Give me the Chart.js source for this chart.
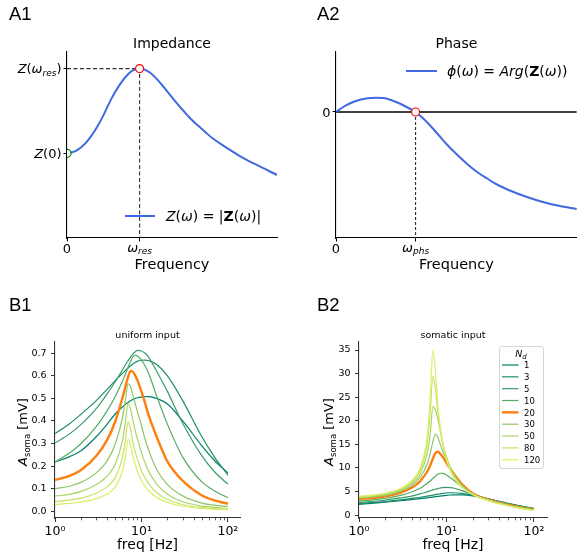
<!DOCTYPE html>
<html><head><meta charset="utf-8">
<script src="https://cdn.jsdelivr.net/npm/chart.js@4.4.1/dist/chart.umd.min.js"></script>
<style>
html,body{margin:0;padding:0;background:#fff;}
#wrap{position:relative;width:582px;height:558px;overflow:hidden;background:#fff;}
canvas{position:absolute;left:0;top:0;}
.plab{position:absolute;font-family:"Liberation Sans",Arial,sans-serif;font-size:18.5px;color:#000;line-height:1;}
</style></head><body>
<div id="wrap">
<canvas id="cA1" width="582" height="558"></canvas>
<canvas id="cA2" width="582" height="558"></canvas>
<canvas id="cB1" width="582" height="558"></canvas>
<canvas id="cB2" width="582" height="558"></canvas>
<div class="plab" style="left:9px;top:4.5px">A1</div>
<div class="plab" style="left:317px;top:4.5px">A2</div>
<div class="plab" style="left:9px;top:295.5px">B1</div>
<div class="plab" style="left:317px;top:295.5px">B2</div>
</div>
<script>
// ---------- data: panel A1 (impedance, arbitrary units, w_res = 1) ----------
const impFreq = [0, 0.1, 0.2, 0.3, 0.4, 0.5, 0.6, 0.7, 0.8, 0.9, 1.0, 1.1, 1.2, 1.3, 1.4, 1.5, 1.6, 1.7, 1.8, 1.9, 2.0, 2.2, 2.4, 2.6, 2.893];
const impZ    = [1.0, 1.02, 1.075, 1.165, 1.29, 1.445, 1.625, 1.775, 1.895, 1.975, 2.0, 1.975, 1.91, 1.815, 1.71, 1.605, 1.505, 1.41, 1.33, 1.255, 1.18, 1.065, 0.958, 0.868, 0.744];
const resFreq = 1.0, resZ = 2.0, zeroZ = 1.0;
// ---------- data: panel A2 (phase, w_phs = 1) ----------
const phsFreq = [0, 0.1, 0.2, 0.3, 0.4, 0.5, 0.6, 0.7, 0.8, 0.9, 1.0, 1.1, 1.2, 1.3, 1.4, 1.5, 1.6, 1.7, 1.8, 1.9, 2.0, 2.2, 2.4, 2.6, 2.8, 3.026];
const phsPhi  = [0, 0.055, 0.095, 0.123, 0.138, 0.143, 0.139, 0.117, 0.085, 0.045, 0, -0.068, -0.15, -0.24, -0.33, -0.41, -0.485, -0.555, -0.615, -0.665, -0.715, -0.79, -0.85, -0.9, -0.938, -0.97];
const phsZero = 1.0;
// ---------- data: panels B ----------
const ndLabels = ['1', '3', '5', '10', '20', '30', '50', '80', '120'];
const freqHz = [1, 1.5, 2, 3, 4, 5, 6, 6.5, 7, 7.5, 8, 8.5, 9, 10, 11, 12, 15, 20, 30, 50, 70, 100];
// uniform input, A_soma [mV]
const uni1   = [0.218,0.243,0.268,0.33,0.385,0.432,0.462,0.473,0.483,0.49,0.496,0.5,0.503,0.506,0.508,0.508,0.50,0.475,0.40,0.29,0.225,0.17];
const uni3   = [0.344,0.39,0.43,0.49,0.54,0.58,0.61,0.623,0.635,0.645,0.653,0.66,0.665,0.669,0.67,0.668,0.65,0.60,0.49,0.33,0.24,0.16];
const uni5   = [0.302,0.345,0.385,0.455,0.52,0.575,0.625,0.648,0.667,0.684,0.698,0.707,0.713,0.71,0.70,0.685,0.62,0.53,0.39,0.245,0.175,0.12];
const uni10  = [0.218,0.26,0.30,0.375,0.445,0.51,0.575,0.607,0.637,0.665,0.685,0.692,0.688,0.67,0.645,0.615,0.51,0.385,0.24,0.13,0.09,0.06];
const uni20  = [0.139,0.158,0.183,0.245,0.315,0.40,0.50,0.55,0.595,0.622,0.617,0.60,0.58,0.53,0.48,0.43,0.33,0.22,0.135,0.07,0.048,0.033];
const uni30  = [0.100,0.112,0.128,0.17,0.222,0.30,0.41,0.49,0.565,0.55,0.51,0.475,0.44,0.38,0.32,0.275,0.185,0.118,0.068,0.036,0.027,0.021];
const uni50  = [0.067,0.076,0.088,0.118,0.155,0.21,0.31,0.39,0.478,0.45,0.40,0.355,0.32,0.26,0.215,0.18,0.12,0.075,0.042,0.023,0.017,0.013];
const uni80  = [0.043,0.05,0.058,0.08,0.108,0.15,0.235,0.31,0.397,0.36,0.30,0.26,0.23,0.18,0.148,0.125,0.082,0.052,0.03,0.016,0.012,0.009];
const uni120 = [0.030,0.035,0.041,0.056,0.076,0.108,0.175,0.24,0.32,0.29,0.24,0.205,0.175,0.135,0.11,0.092,0.061,0.039,0.022,0.012,0.008,0.006];
// somatic input, A_soma [mV]
const som1   = [2.3,2.55,2.75,3.05,3.3,3.5,3.68,3.76,3.84,3.92,3.99,4.05,4.1,4.2,4.27,4.31,4.3,4.1,3.45,2.5,1.95,1.45];
const som3   = [2.45,2.7,2.9,3.25,3.55,3.8,4.05,4.15,4.25,4.35,4.45,4.52,4.6,4.7,4.75,4.75,4.6,4.2,3.45,2.45,1.9,1.4];
const som5   = [2.7,2.95,3.2,3.65,4.05,4.5,4.95,5.15,5.35,5.5,5.65,5.76,5.85,5.9,5.85,5.75,5.2,4.4,3.45,2.4,1.85,1.35];
const som10  = [3.0,3.3,3.6,4.2,4.9,5.7,6.7,7.25,7.8,8.3,8.7,8.88,8.85,8.5,8.0,7.45,6.0,4.6,3.4,2.3,1.75,1.3];
const som20  = [3.4,3.7,4.0,4.8,5.8,7.2,9.2,10.5,12.0,13.2,13.45,13.0,12.4,11.1,9.9,8.9,6.6,4.6,3.3,2.2,1.65,1.2];
const som30  = [3.6,3.9,4.2,5.1,6.3,8.0,10.8,13.0,15.6,17.2,16.4,15.0,13.7,11.6,10.0,8.7,6.3,4.5,3.25,2.15,1.6,1.15];
const som50  = [3.75,4.05,4.4,5.35,6.7,8.8,13.0,17.0,23.0,22.2,20.2,17.8,15.6,12.4,10.2,8.7,6.2,4.45,3.2,2.1,1.55,1.1];
const som80  = [3.9,4.2,4.55,5.55,7.0,9.5,15.0,21.5,29.4,26.5,21.5,18.0,15.3,11.8,9.7,8.3,6.0,4.4,3.1,2.05,1.5,1.05];
const som120 = [4.0,4.3,4.65,5.7,7.3,10.0,16.5,24.5,35.0,30.0,23.0,18.7,15.6,11.8,9.6,8.1,5.9,4.35,3.05,2.0,1.45,1.0];
// tick values
const uniYTicks = [0, 0.1, 0.2, 0.3, 0.4, 0.5, 0.6, 0.7];
const somYTicks = [0, 5, 10, 15, 20, 25, 30, 35];
const logMajor = [1, 10, 100];
const logMinor = [2, 3, 4, 5, 6, 7, 8, 9, 20, 30, 40, 50, 60, 70, 80, 90];
const supDigit = ['⁰', '¹', '²'];

// ---------- styles ----------
const F = 'DejaVu Sans';
const BLUE = '#4169e1';
const ndColors = ['#00806a', '#1c8e66', '#399c66', '#55aa66', '#ff7f0e', '#8ec666', '#aad566', '#c6e366', '#dcee66'];

function rich(ctx, parts, x, y, align, rot) {
  ctx.save();
  ctx.translate(x, y);
  if (rot) ctx.rotate(rot);
  ctx.textBaseline = 'alphabetic';
  ctx.textAlign = 'left';
  ctx.fillStyle = '#000';
  let w = 0;
  parts.forEach(p => { ctx.font = p[1]; w += ctx.measureText(p[0]).width; });
  let cx = align === 'center' ? -w / 2 : (align === 'right' ? -w : 0);
  parts.forEach(p => { ctx.font = p[1]; ctx.fillText(p[0], cx, p[2] || 0); cx += ctx.measureText(p[0]).width; });
  ctx.restore();
}
function pts(xs, ys) { return xs.map((x, i) => ({x: x, y: ys[i]})); }
function hline(ctx, x1, x2, y, color, w) {
  ctx.save(); ctx.strokeStyle = color; ctx.lineWidth = w; ctx.beginPath(); ctx.moveTo(x1, y); ctx.lineTo(x2, y); ctx.stroke(); ctx.restore();
}

// area = [left, right, top, bottom] of the plotting box; yW / xH = room kept for tick labels
function baseOptions(area, xs, ys, yW, xH) {
  return {
    animation: false, responsive: false, events: [], devicePixelRatio: 1,
    layout: {padding: {left: area[0] - yW, top: area[2], right: 582 - area[1], bottom: 558 - area[3] - xH}},
    plugins: {legend: {display: false}, tooltip: {enabled: false}, title: {display: false}},
    scales: {x: xs, y: ys}
  };
}
function linAxis(min, max, tickVals, horizontal) {
  return {
    type: 'linear', min: min, max: max,
    afterFit: s => { if (horizontal) s.height = 0; else s.width = 0; },
    afterBuildTicks: s => { s.ticks = tickVals.map(v => ({value: v})); },
    ticks: {display: false},
    grid: {display: true, drawOnChartArea: false, drawTicks: true, tickLength: 3.5, tickColor: '#000', tickWidth: 1},
    border: {display: true, color: '#000', width: 1.1}
  };
}

// ---------- A1 ----------
const pluginA1 = {
  id: 'textA1',
  afterDraw(chart) {
    const ctx = chart.ctx, a = chart.chartArea, xs = chart.scales.x, ys = chart.scales.y;
    const cx = (a.left + a.right) / 2;
    rich(ctx, [['Impedance', `14px ${F}`]], cx, a.top - 4, 'center');
    rich(ctx, [['Z', `italic 13px ${F}`], ['(', `13px ${F}`], ['ω', `italic 13px ${F}`], ['res', `italic 9px ${F}`, 2.5], [')', `13px ${F}`]], a.left - 5.5, ys.getPixelForValue(resZ) + 4.7, 'right');
    rich(ctx, [['Z', `italic 13px ${F}`], ['(0)', `13px ${F}`]], a.left - 5.5, ys.getPixelForValue(zeroZ) + 4.7, 'right');
    rich(ctx, [['0', `13px ${F}`]], xs.getPixelForValue(0), a.bottom + 15, 'center');
    rich(ctx, [['ω', `italic 13px ${F}`], ['res', `italic 9px ${F}`, 2.5]], xs.getPixelForValue(resFreq), a.bottom + 13.5, 'center');
    rich(ctx, [['Frequency', `14.5px ${F}`]], cx, a.bottom + 31, 'center');
    hline(ctx, a.left + 58, a.left + 88, a.bottom - 22, BLUE, 2);
    rich(ctx, [['Z', `italic 14px ${F}`], ['(', `14px ${F}`], ['ω', `italic 14px ${F}`], [') = |', `14px ${F}`], ['Z', `bold 14px ${F}`], ['(', `14px ${F}`], ['ω', `italic 14px ${F}`], [')|', `14px ${F}`]], a.left + 99, a.bottom - 17, 'left');
  }
};
new Chart(document.getElementById('cA1'), {
  type: 'scatter',
  data: {datasets: [
    {data: [{x: resFreq, y: resZ}], pointRadius: 4, pointBorderColor: '#ff0000', pointBackgroundColor: '#fff', pointBorderWidth: 1.2, showLine: false, order: -10},
    {data: [{x: 0, y: zeroZ}], pointRadius: 4, pointBorderColor: '#008000', pointBackgroundColor: '#fff', pointBorderWidth: 1.2, showLine: false, order: -9},
    {data: [{x: 0, y: resZ}, {x: resFreq, y: resZ}, {x: resFreq, y: 0}], showLine: true, borderColor: '#333', borderWidth: 1.1, borderDash: [4, 2.5], pointRadius: 0, order: 2},
    {data: pts(impFreq, impZ), showLine: true, borderColor: BLUE, borderWidth: 2, pointRadius: 0, cubicInterpolationMode: 'monotone', order: 1}
  ]},
  options: baseOptions([67, 277, 52, 238], linAxis(0, 2.893, [0, resFreq], true), linAxis(0, 2.196, [zeroZ, resZ], false), 0, 0),
  plugins: [pluginA1]
});

// ---------- A2 ----------
const pluginA2 = {
  id: 'textA2',
  afterDraw(chart) {
    const ctx = chart.ctx, a = chart.chartArea, xs = chart.scales.x, ys = chart.scales.y;
    const cx = (a.left + a.right) / 2;
    rich(ctx, [['Phase', `14px ${F}`]], cx, a.top - 4, 'center');
    rich(ctx, [['0', `13px ${F}`]], a.left - 5.5, ys.getPixelForValue(0) + 4.7, 'right');
    rich(ctx, [['0', `13px ${F}`]], xs.getPixelForValue(0), a.bottom + 15, 'center');
    rich(ctx, [['ω', `italic 13px ${F}`], ['phs', `italic 9px ${F}`, 2.5]], xs.getPixelForValue(phsZero), a.bottom + 13.5, 'center');
    rich(ctx, [['Frequency', `14.5px ${F}`]], cx, a.bottom + 31, 'center');
    hline(ctx, a.left + 70, a.left + 101, a.top + 19, BLUE, 2);
    rich(ctx, [['ϕ', `italic 14px ${F}`], ['(', `14px ${F}`], ['ω', `italic 14px ${F}`], [') = ', `14px ${F}`], ['Arg', `italic 14px ${F}`], ['(', `14px ${F}`], ['Z', `bold 14px ${F}`], ['(', `14px ${F}`], ['ω', `italic 14px ${F}`], ['))', `14px ${F}`]], a.left + 111, a.top + 24, 'left');
  }
};
new Chart(document.getElementById('cA2'), {
  type: 'scatter',
  data: {datasets: [
    {data: [{x: phsZero, y: 0}], pointRadius: 4, pointBorderColor: '#ff0000', pointBackgroundColor: '#fff', pointBorderWidth: 1.2, showLine: false, order: -10},
    {data: [{x: phsZero, y: 0}, {x: phsZero, y: -1.26}], showLine: true, borderColor: '#333', borderWidth: 1.1, borderDash: [3, 2], pointRadius: 0, order: 3},
    {data: [{x: 0, y: 0}, {x: 3.026, y: 0}], showLine: true, borderColor: '#000', borderWidth: 1.4, pointRadius: 0, order: 2},
    {data: pts(phsFreq, phsPhi), showLine: true, borderColor: BLUE, borderWidth: 2, pointRadius: 0, cubicInterpolationMode: 'monotone', order: 1}
  ]},
  options: baseOptions([336, 582, 52, 238], linAxis(0, 3.026, [0, phsZero], true), linAxis(-1.26, 0.6, [0], false), 0, 0),
  plugins: [pluginA2]
});

// ---------- B panels ----------
const B_YW = 50, B_XH = 30;
function isDecade(v) { const l = Math.log10(v); return Math.abs(l - Math.round(l)) < 1e-9; }
function bDatasets(series) {
  return series.map((vals, i) => ({
    label: ndLabels[i], data: pts(freqHz, vals), showLine: true,
    borderColor: ndColors[i], borderWidth: i === 4 ? 2.4 : 1.2, pointRadius: 0,
    cubicInterpolationMode: 'monotone', order: -i
  }));
}
function logAxis(max) {
  return {
    type: 'logarithmic', min: 1, max: max,
    afterFit: s => { s.height = B_XH; },
    afterBuildTicks: s => { s.ticks = logMajor.map(v => ({value: v, major: true})); },
    ticks: {autoSkip: false, maxRotation: 0, minRotation: 0, padding: 2.5, color: '#000', font: {family: F, size: 12.5},
            callback: v => isDecade(v) ? '10' + supDigit[Math.round(Math.log10(v))] : ''},
    grid: {display: true, drawOnChartArea: false, drawTicks: true, tickLength: 4, tickColor: '#333', tickWidth: 1},
    border: {display: true, color: '#333', width: 1.1}
  };
}
function bYAxis(min, max, tickVals, digits) {
  return {
    type: 'linear', min: min, max: max,
    afterFit: s => { s.width = B_YW; },
    afterBuildTicks: s => { s.ticks = tickVals.map(v => ({value: v})); },
    ticks: {padding: 4.5, color: '#000', font: {family: F, size: 9.5}, callback: v => Number(v).toFixed(digits)},
    grid: {display: true, drawOnChartArea: false, drawTicks: true, tickLength: 4, tickColor: '#333', tickWidth: 1},
    border: {display: true, color: '#333', width: 1.1}
  };
}
function bPlugin(id, title, ylabX, withLegend) {
  return {
    id: id,
    afterDraw(chart) {
      const ctx = chart.ctx, a = chart.chartArea, xs = chart.scales.x;
      const cx = (a.left + a.right) / 2;
      ctx.save(); ctx.strokeStyle = '#333'; ctx.lineWidth = 0.8;
      logMinor.forEach(v => {
        const px = Math.round(xs.getPixelForValue(v)) + 0.5;
        ctx.beginPath(); ctx.moveTo(px, a.bottom); ctx.lineTo(px, a.bottom + 2.3); ctx.stroke();
      });
      ctx.restore();
      rich(ctx, [[title, `9.5px ${F}`]], cx, a.top - 4.5, 'center');
      rich(ctx, [['freq [Hz]', `14px ${F}`]], cx, a.bottom + 30.5, 'center');
      rich(ctx, [['A', `italic 13px ${F}`], ['soma', `8.5px ${F}`, 3], [' [mV]', `13px ${F}`]], ylabX, (a.top + a.bottom) / 2 + 2, 'center', -Math.PI / 2);
      if (withLegend) {
        const w = 44, h = 122, x0 = a.right - 4 - w, y0 = a.top + 4;
        ctx.save();
        ctx.beginPath();
        if (ctx.roundRect) ctx.roundRect(x0 + 0.5, y0 + 0.5, w, h, 2.5); else ctx.rect(x0 + 0.5, y0 + 0.5, w, h);
        ctx.fillStyle = 'rgba(255,255,255,0.85)'; ctx.fill();
        ctx.strokeStyle = '#d6d6d6'; ctx.lineWidth = 1; ctx.stroke();
        ctx.restore();
        rich(ctx, [['N', `italic 9.5px ${F}`], ['d', `italic 7px ${F}`, 2]], x0 + w / 2, y0 + 10.5, 'center');
        chart.data.datasets.forEach((ds, i) => {
          const y = y0 + 19 + i * 11.84;
          hline(ctx, x0 + 3, x0 + 19.5, y, ds.borderColor, ds.borderWidth);
          rich(ctx, [[ds.label, `8.5px ${F}`]], x0 + 25, y + 3.2, 'left');
        });
      }
    }
  };
}
new Chart(document.getElementById('cB1'), {
  type: 'scatter',
  data: {datasets: bDatasets([uni1, uni3, uni5, uni10, uni20, uni30, uni50, uni80, uni120])},
  options: baseOptions([55, 240, 342, 518], logAxis(138), bYAxis(-0.03, 0.75, uniYTicks, 1), B_YW, B_XH),
  plugins: [bPlugin('textB1', 'uniform input', 27, false)]
});
new Chart(document.getElementById('cB2'), {
  type: 'scatter',
  data: {datasets: bDatasets([som1, som3, som5, som10, som20, som30, som50, som80, som120])},
  options: baseOptions([359, 547, 342, 518], logAxis(141), bYAxis(-0.6, 36.7, somYTicks, 0), B_YW, B_XH),
  plugins: [bPlugin('textB2', 'somatic input', 332.5, true)]
});
</script>
</body></html>
